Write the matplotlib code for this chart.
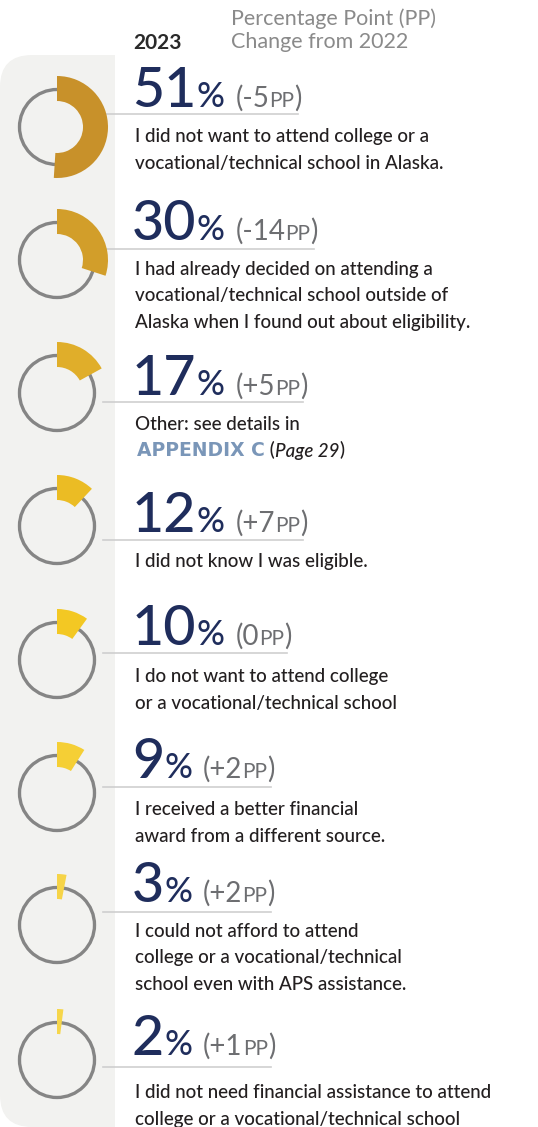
import matplotlib
matplotlib.use("Agg")
import matplotlib.pyplot as plt
from matplotlib.patches import Wedge, Circle, FancyBboxPatch, Rectangle
from matplotlib import font_manager

# --- data -------------------------------------------------------------
pct_2023 = [51, 30, 17, 12, 10, 9, 3, 2]
pp_change = ["-5", "-14", "+5", "+7", "0", "+2", "+2", "+1"]
reasons = [
    ["I did not want to attend college or a",
     "vocational/technical school in Alaska."],
    ["I had already decided on attending a",
     "vocational/technical school outside of",
     "Alaska when I found out about eligibility."],
    ["Other: see details in"],
    ["I did not know I was eligible."],
    ["I do not want to attend college",
     "or a vocational/technical school"],
    ["I received a better financial",
     "award from a different source."],
    ["I could not afford to attend",
     "college or a vocational/technical",
     "school even with APS assistance."],
    ["I did not need financial assistance to attend",
     "college or a vocational/technical school"],
]
wedge_colors = ["#C8912A", "#D29E2A", "#E0AE2A", "#EBBC24", "#F3C823",
                "#F5CF35", "#F6D448", "#F6D64B"]
year_label = "2023"
change_label = ["Percentage Point (PP)", "Change from 2022"]

# --- layout (pixels) -------------------------------------------------
row_cy = [127, 260, 393, 526, 660, 793, 925, 1060]
num_base = [107, 240, 395, 532, 645, 778, 902, 1055]
desc_base = [142, 275, 430, 567, 682, 815, 937, 1098]
rule_y = [114, 249, 402, 540, 653, 787, 912, 1067]
line_step = 26.5

NAVY = "#1F2D5C"
BODY = "#231F20"
GREY = "#6D6E71"
PANEL = "#F2F2F0"
RING = "#858585"

names = {f.name for f in font_manager.fontManager.ttflist}
narrow = "Liberation Sans Narrow" if "Liberation Sans Narrow" in names else "Lato"
main = ["Lato", "DejaVu Sans"]

W, H = 538, 1127
fig = plt.figure(figsize=(W / 100, H / 100), dpi=100)
ax = fig.add_axes([0, 0, 1, 1])
ax.set_xlim(0, W)
ax.set_ylim(H, 0)
ax.set_aspect("equal")
ax.axis("off")
renderer = fig.canvas.get_renderer()


def run_text(x, y, parts, gap=0):
    for s, kw in parts:
        t = ax.text(x, y, s, va="baseline", ha="left", **kw)
        x1 = t.get_window_extent(renderer).x1
        x = ax.transData.inverted().transform((x1, 0))[0] + gap
    return x


# grey side panel
ax.add_patch(FancyBboxPatch((0, 55), 115, H - 55, boxstyle="round,pad=0,rounding_size=32",
                            fc=PANEL, ec="none", zorder=0))
ax.add_patch(Rectangle((60, 55), 55, H - 55, fc=PANEL, ec="none", zorder=0))

# header
ax.text(133, 49, year_label, family=[narrow, "DejaVu Sans"], weight="bold",
        fontsize=15, color="#2A2A2A", va="baseline")
ax.text(231, 25, change_label[0], family=main, fontsize=15.5, color="#8A8A8A", va="baseline")
ax.text(231, 48, change_label[1], family=main, fontsize=15.5, color="#8A8A8A", va="baseline")

for i, p in enumerate(pct_2023):
    cy = row_cy[i]
    ax.add_patch(Circle((57, cy), 37.5, fill=False, ec=RING, lw=2.4, zorder=2))
    ax.add_patch(Wedge((57, cy), 51, -90, -90 + 360 * p / 100, width=25,
                       fc=wedge_colors[i], ec="none", zorder=3))

    x = run_text(132, num_base[i], [(str(p), dict(family=main, fontsize=40,
                                                   weight="medium", color=NAVY))])
    x = run_text(x, num_base[i], [("%", dict(family=main, fontsize=25,
                                              weight="medium", color=NAVY))])
    x_end = run_text(x + 11, num_base[i], [
        ("(" + pp_change[i], dict(family=main, fontsize=20, color=GREY)),
        ("PP", dict(family=main, fontsize=15, color=GREY)),
        (")", dict(family=main, fontsize=20, color=GREY)),
    ])
    ax.plot([103, x_end - 4], [rule_y[i], rule_y[i]], color="#CFCFCF", lw=1.2, zorder=1)

    for j, line in enumerate(reasons[i]):
        ax.text(135, desc_base[i] + j * line_step, line, family=main, fontsize=13.5,
                weight="medium", color=BODY, va="baseline")

# appendix reference under "Other"
run_text(137, desc_base[2] + line_step, [
    ("APPENDIX C", dict(family="DejaVu Sans", fontsize=13.5, weight="bold", color="#7A96B8")),
    (" (", dict(family=main, fontsize=13.5, weight="medium", color=BODY)),
    ("Page 29", dict(family=main, fontsize=13.5, weight="medium", style="italic", color=BODY)),
    (")", dict(family=main, fontsize=13.5, weight="medium", color=BODY)),
])

fig.savefig("out.png", dpi=100)
